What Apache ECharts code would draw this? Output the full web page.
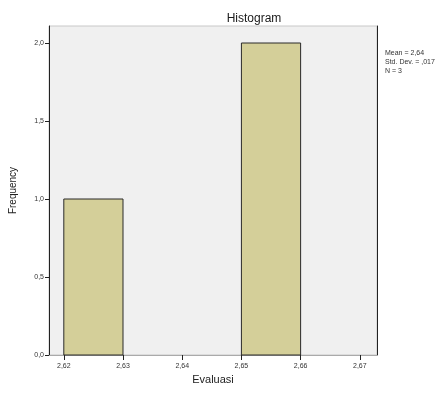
<!DOCTYPE html>
<html>
<head>
<meta charset="utf-8">
<script src="https://cdn.jsdelivr.net/npm/echarts@6/dist/echarts.min.js"></script>
<style>
  html, body { margin: 0; padding: 0; background: #fff; }
  #chart { width: 444px; height: 393px; }
</style>
</head>
<body>
<div id="chart"></div>
<script>
// Histogram bins of "Evaluasi"
const binStarts = [2.62, 2.63, 2.64, 2.65];
const binEnds   = [2.63, 2.64, 2.65, 2.66];
const counts    = [1, 0, 0, 2];

const xTicks = [2.62, 2.63, 2.64, 2.65, 2.66, 2.67];
const yTicks = [0, 0.5, 1.0, 1.5, 2.0];

const statsLines = ['Mean = 2,64', 'Std. Dev. = ,017', 'N = 3'];

const fmtX = v => v.toFixed(2).replace('.', ',');
const fmtY = v => v.toFixed(1).replace('.', ',');

const binData = binStarts.map((s, i) => [s, binEnds[i], counts[i]]);

const font = 'Liberation Sans, Arial, sans-serif';
const chart = echarts.init(document.getElementById('chart'), null, { renderer: 'canvas' });

chart.setOption({
  animation: false,
  backgroundColor: '#ffffff',
  title: [
    {
      text: 'Histogram',
      left: 249, top: 8,
      textAlign: 'center',
      textStyle: { fontFamily: font, fontSize: 12, fontWeight: 'normal', color: '#1a1a1a' }
    },
    {
      text: statsLines.join('\n'),
      left: 380, top: 44,
      textStyle: { fontFamily: font, fontSize: 7, fontWeight: 'normal', color: '#333', lineHeight: 9 }
    }
  ],
  grid: {
    left: 48, right: 67, top: 26, bottom: 38,
    show: true,
    backgroundColor: '#f0f0f0',
    borderColor: '#c8c8c8',
    borderWidth: 1
  },
  xAxis: {
    type: 'value',
    min: 2.6175, max: 2.6729,
    name: 'Evaluasi',
    nameLocation: 'middle',
    nameGap: 19,
    nameTextStyle: { fontFamily: font, fontSize: 11, color: '#222' },
    splitLine: { show: false },
    axisLine: { show: true, onZero: false, lineStyle: { color: '#aaa', width: 1 } },
    axisTick: { show: true, length: 5, customValues: xTicks, lineStyle: { color: '#222' } },
    axisLabel: {
      customValues: xTicks,
      formatter: fmtX,
      fontFamily: font, fontSize: 7, color: '#333', margin: 8
    }
  },
  yAxis: [
    {
      type: 'value',
      min: 0, max: 2.109,
      name: 'Frequency',
      nameLocation: 'middle',
      nameGap: 31,
      nameTextStyle: { fontFamily: font, fontSize: 10, color: '#222' },
      splitLine: { show: false },
      axisLine: { show: true, lineStyle: { color: '#222', width: 1 } },
      axisTick: { show: true, length: 4, customValues: yTicks, lineStyle: { color: '#222' } },
      axisLabel: {
        customValues: yTicks,
        formatter: fmtY,
        fontFamily: font, fontSize: 7, color: '#333', margin: 5
      }
    },
    {
      type: 'value',
      position: 'right',
      min: 0, max: 2.109,
      splitLine: { show: false },
      axisLine: { show: true, lineStyle: { color: '#222', width: 1 } },
      axisTick: { show: false },
      axisLabel: { show: false }
    }
  ],
  series: [
    {
      type: 'custom',
      data: binData,
      encode: { x: [0, 1], y: 2 },
      clip: false,
      renderItem: function (params, api) {
        const x0 = api.value(0), x1 = api.value(1), c = api.value(2);
        const pTop = api.coord([x0, c]);
        const pBot = api.coord([x1, 0]);
        if (c <= 0) return null;
        return {
          type: 'rect',
          shape: { x: pTop[0], y: pTop[1], width: pBot[0] - pTop[0], height: pBot[1] - pTop[1] },
          style: { fill: '#d4cf99', stroke: '#2a2a2a', lineWidth: 1 }
        };
      }
    }
  ]
});
</script>
</body>
</html>
